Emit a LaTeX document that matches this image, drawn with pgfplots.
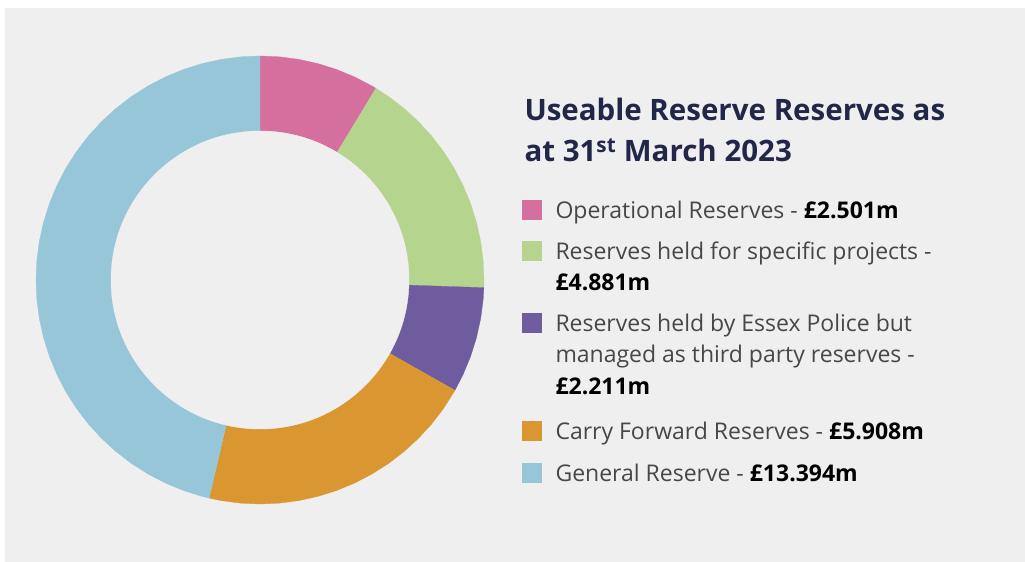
\documentclass[border=0pt]{standalone}
\usepackage{pgfplots}
\pgfplotsset{compat=1.18}
\usepackage{fontspec}
\setmainfont{Open Sans}

\definecolor{bg}{HTML}{EFEFEF}
\definecolor{navy}{HTML}{22274A}
\definecolor{txt}{HTML}{474747}
\definecolor{cop}{HTML}{D5709E}
\definecolor{cproj}{HTML}{B5D58F}
\definecolor{cpol}{HTML}{6E5C9E}
\definecolor{ccf}{HTML}{DA9631}
\definecolor{cgen}{HTML}{96C6D8}

\newcommand\val[1]{\textcolor{black}{\textbf{#1}}}

\begin{document}
\begin{tikzpicture}[x=1bp,y=1bp]
% page and panel
\fill[white] (0,0) rectangle (1025,562);
\fill[bg] (5,0) rectangle (1025,554);

\begin{axis}[
    at={(260,282)}, anchor=center,
    scale only axis, width=448bp, height=448bp,
    xmin=-224, xmax=224, ymin=-224, ymax=224,
    hide axis, clip=false,
    data cs=polar,
    legend image code/.code={\fill[#1] (0bp,-1bp) rectangle (19bp,18bp);},
    legend style={
        at={(axis cs:262,85)}, anchor=north west,
        draw=none, fill=none, inner sep=0pt,
        column sep=12bp, row sep=0pt,
        cells={anchor=base west, inner sep=0pt, text height=21bp, text depth=9.5bp},
        font=\fontsize{23bp}{30.5bp}\selectfont, text=txt,
    },
]
% angle (deg, clockwise from top) , radius ; values 2.501 4.881 2.211 5.908 13.394 (total 28.895)
\addplot[fill=cop, draw=cop, line width=0.3bp] coordinates {
    (0,0) (90,224) (85,224) (80,224) (75,224) (70,224) (65,224) (60,224) (58.84,224)
};
\addlegendentry{Operational Reserves - \val{£2.501m}}

\addplot[fill=cproj, draw=cproj, line width=0.3bp] coordinates {
    (0,0) (58.84,224) (55,224) (50,224) (45,224) (40,224) (35,224) (30,224) (25,224)
    (20,224) (15,224) (10,224) (5,224) (0,224) (-1.97,224)
};
\addlegendentry[text height=35.5bp]{Reserves held for specific projects -}
\addlegendimage{empty legend}
\addlegendentry[text height=25.5bp]{\val{£4.881m}}

\addplot[fill=cpol, draw=cpol, line width=0.3bp] coordinates {
    (0,0) (-1.97,224) (-5,224) (-10,224) (-15,224) (-20,224) (-25,224) (-29.52,224)
};
\addlegendentry[text height=35.5bp]{Reserves held by Essex Police but}
\addlegendimage{empty legend}
\addlegendentry[text height=25.5bp]{managed as third party reserves -}
\addlegendimage{empty legend}
\addlegendentry[text height=26.5bp]{\val{£2.211m}}

\addplot[fill=ccf, draw=ccf, line width=0.3bp] coordinates {
    (0,0) (-29.52,224) (-35,224) (-40,224) (-45,224) (-50,224) (-55,224) (-60,224)
    (-65,224) (-70,224) (-75,224) (-80,224) (-85,224) (-90,224) (-95,224) (-100,224)
    (-103.13,224)
};
\addlegendentry[text height=39.5bp]{Carry Forward Reserves - \val{£5.908m}}

\addplot[fill=cgen, draw=cgen, line width=0.3bp] coordinates {
    (0,0) (-103.13,224) (-105,224) (-110,224) (-115,224) (-120,224) (-125,224) (-130,224)
    (-135,224) (-140,224) (-145,224) (-150,224) (-155,224) (-160,224) (-165,224)
    (-170,224) (-175,224) (-180,224) (-185,224) (-190,224) (-195,224) (-200,224)
    (-205,224) (-210,224) (-215,224) (-220,224) (-225,224) (-230,224) (-235,224)
    (-240,224) (-245,224) (-250,224) (-255,224) (-260,224) (-265,224) (-270,224)
};
\addlegendentry[text height=36.5bp]{General Reserve - \val{£13.394m}}

% centre hole
\addplot[forget plot, only marks, mark=*, mark size=149bp, color=bg] coordinates {(0,0)};
\end{axis}

\node[anchor=base west, align=left, text=navy,
      font=\fontsize{29.5bp}{41bp}\selectfont\bfseries] at (521,400)
    {Useable Reserve Reserves as\\at 31\textsuperscript{st} March 2023};
\end{tikzpicture}
\end{document}
